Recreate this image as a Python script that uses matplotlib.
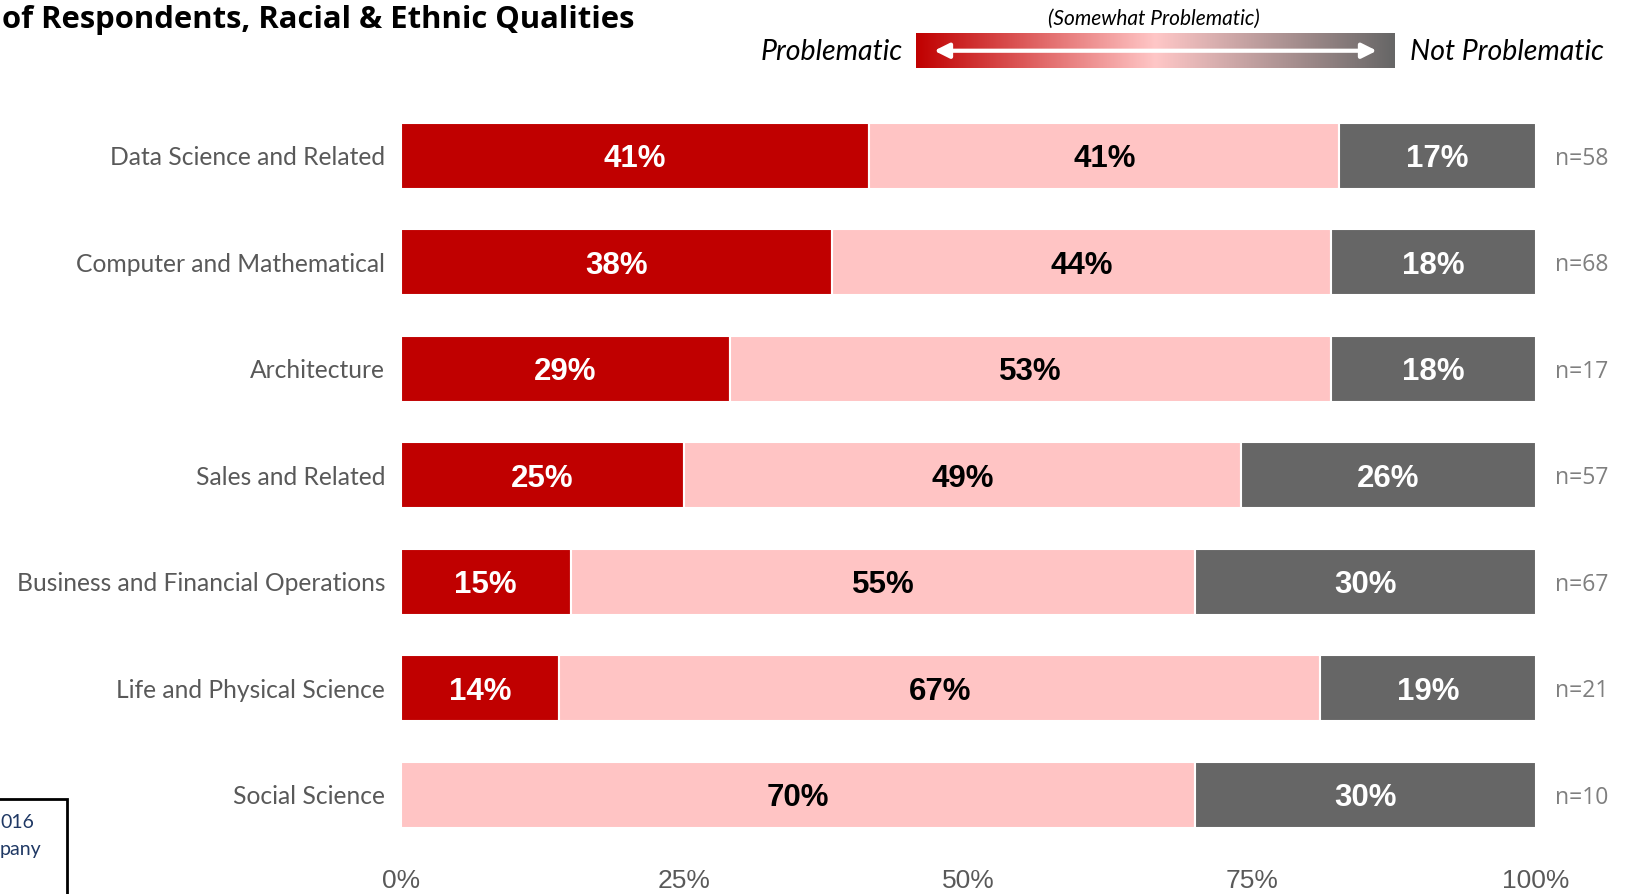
import matplotlib.pyplot as plt
import numpy as np
from matplotlib import font_manager
from matplotlib.colors import LinearSegmentedColormap
from matplotlib.patches import Rectangle

# occupation groups, top to bottom
categories = [
    "Data Science and Related",
    "Computer and Mathematical",
    "Architecture",
    "Sales and Related",
    "Business and Financial Operations",
    "Life and Physical Science",
    "Social Science",
]
problematic = [41.3, 38, 29, 25, 15, 14, 0]
somewhat = [41.4, 44, 53, 49, 55, 67, 70]
not_problematic = [17.3, 18, 18, 26, 30, 19, 30]
sample_sizes = [58, 68, 17, 57, 67, 21, 10]
ticks = [0, 25, 50, 75, 100]

RED = "#C00000"
PINK = "#FFC4C4"
GREY = "#666666"
LABEL_GREY = "#595959"

names = {f.name for f in font_manager.fontManager.ttflist}
narrow = "Liberation Sans Narrow" if "Liberation Sans Narrow" in names else "Liberation Sans"

fig = plt.figure(figsize=(16.27, 8.94), dpi=100)
ax = fig.add_axes([0.2462, 0.0513, 0.6977, 0.834])

y = np.arange(len(categories))
segments = [(problematic, RED, "white"), (somewhat, PINK, "black"),
            (not_problematic, GREY, "white")]
left = np.zeros(len(categories))
for vals, color, txt in segments:
    vals = np.array(vals, dtype=float)
    ax.barh(y, vals, left=left, height=0.62, color=color,
            edgecolor="white", linewidth=1.5)
    for yi, l, v in zip(y, left, vals):
        if v > 0:
            ax.text(l + v / 2, yi, f"{v:.0f}%", ha="center",
                    va="center_baseline", color=txt, fontsize=22.5,
                    fontweight="bold", family="Liberation Sans")
    left += vals

ax.set_xlim(0, 100)
ax.set_ylim(len(categories) - 0.5, -0.5)
ax.set_yticks(y)
ax.set_yticklabels(categories, fontsize=17.7, color=LABEL_GREY, family="Lato",
                   va="center_baseline")
ax.set_xticks(ticks)
ax.set_xticklabels([f"{t}%" for t in ticks], fontsize=19, color=LABEL_GREY,
                   family=narrow)
ax.tick_params(axis="y", length=0, pad=11)
ax.tick_params(axis="x", length=0, pad=15)
for s in ax.spines.values():
    s.set_visible(False)

for yi, n in zip(y, sample_sizes):
    ax.text(1.0172, yi, f"n={n}", transform=ax.get_yaxis_transform(),
            ha="left", va="center_baseline", fontsize=16.5, color="#7F7F7F",
            family="Open Sans")

# title (runs off the top-left edge)
fig.text(0.001, 0.9687, "of Respondents, Racial & Ethnic Qualities",
         ha="left", va="baseline", fontsize=22.3, fontweight="bold",
         family="Open Sans", color="black")

# gradient legend bar
cmap = LinearSegmentedColormap.from_list("scale", [RED, "#FFC7C7", GREY])
lax = fig.add_axes([0.563, 0.9234, 0.2941, 0.0397])
lax.imshow(np.linspace(0, 1, 256)[None, :], cmap=cmap, aspect="auto",
           extent=[0, 1, 0, 1])
lax.set_xlim(0, 1)
lax.set_ylim(0, 1)
lax.axis("off")
lax.annotate("", xy=(0.038, 0.5), xytext=(0.963, 0.5),
             arrowprops=dict(arrowstyle="<|-|>", color="white", lw=3,
                             mutation_scale=22, shrinkA=0, shrinkB=0))

fig.text(903 / 1627, 1 - 52 / 894, "Problematic", ha="right", va="center",
         fontsize=20.5, style="italic", family="Lato", color="black")
fig.text(1410 / 1627, 1 - 52 / 894, "Not Problematic", ha="left", va="center",
         fontsize=20.5, style="italic", family="Lato", color="black")
fig.text(1154 / 1627, 1 - 19 / 894, "(Somewhat Problematic)", ha="center",
         va="center", fontsize=15, style="italic", family="Lato",
         color="black")

# source box in the lower-left corner
fig.patches.append(Rectangle((-0.05, -0.05), 0.05 + 66.5 / 1627,
                             0.05 + 95 / 894, transform=fig.transFigure,
                             fill=False, edgecolor="black", linewidth=2))
fig.text(0.0, 1 - 823 / 894, "016", ha="left", va="center", fontsize=14,
         color="#1F3864", family="Lato")
fig.text(0.0, 1 - 849 / 894, "pany", ha="left", va="center", fontsize=14,
         color="#1F3864", family="Lato")

fig.savefig("out.png", dpi=100)
